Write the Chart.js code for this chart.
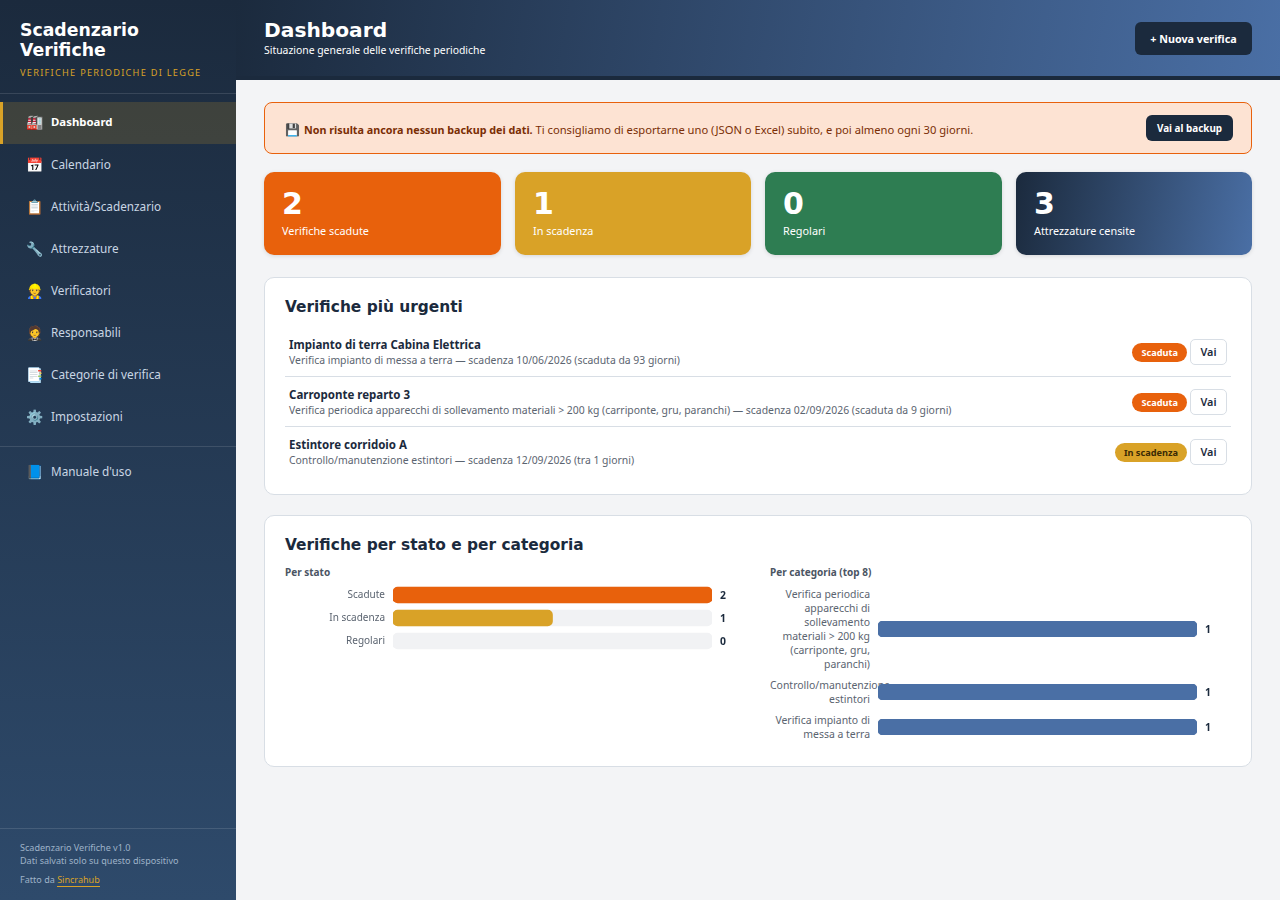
<!DOCTYPE html>
<html lang="it">
<head>
<meta charset="utf-8">
<title>Scadenzario Verifiche</title>
<script src="https://cdn.jsdelivr.net/npm/chart.js@4/dist/chart.umd.min.js"></script>
<style>
* { box-sizing: border-box; margin: 0; padding: 0; }
html, body { width: 1280px; height: 900px; overflow: hidden; background: #f3f4f6; font-family: "Noto Sans", sans-serif; color: #1b2a3d; }
h1, h2, .brand, .num { font-family: "DejaVu Sans", sans-serif; font-weight: 700; }
.abs { position: absolute; }
#sidebar { position: absolute; left: 0; top: 0; width: 236px; height: 900px; background: linear-gradient(180deg, #1b2a3d, #2e4a6b); }
.brand { position: absolute; left: 20px; top: 20px; font-size: 17.3px; line-height: 20px; color: #fff; }
.brand-sub { position: absolute; left: 20px; top: 66px; font-size: 9.2px; line-height: 13px; letter-spacing: 1.27px; color: #d9a227; }
.sep { position: absolute; left: 0; width: 236px; height: 1px; background: rgba(255,255,255,.12); }
.nav { position: absolute; left: 0; width: 236px; height: 42px; display: flex; align-items: center; padding-left: 26px; padding-bottom: 2px; font-size: 11.75px; color: #c9d6e4; }
.nav i { font-style: normal; width: 25px; font-size: 14px; }
.nav.on { background: rgba(217,162,39,.18); border-left: 3px solid #d9a227; padding-left: 23px; padding-bottom: 3px; color: #fff; font-weight: 700; font-size: 11.4px; }
#foot { position: absolute; left: 20px; top: 841px; font-size: 9.05px; line-height: 13px; color: #9fb3c8; }
#foot p + p { margin-top: 6px; }
#foot a { color: #d9a227; border-bottom: 1px solid #d9a227; }
#head { position: absolute; left: 236px; top: 0; width: 1044px; height: 80px; background: linear-gradient(100deg, #1b2a3d, #4a6fa5); border-bottom: 4px solid #1b2a3d; color: #fff; }
#head h1 { position: absolute; left: 28px; top: 17px; font-size: 20.2px; line-height: 27px; }
#head p { position: absolute; left: 28px; top: 43px; font-size: 10.4px; line-height: 15px; }
.btn { position: absolute; background: #1b2a3d; color: #fff; font-weight: 700; border-radius: 6px; display: flex; align-items: center; justify-content: center; }
#alert { position: absolute; left: 264px; top: 102px; width: 988px; height: 52px; background: #fde3d3; border: 1px solid #e8610c; border-radius: 8px; font-size: 11.2px; color: #7a2e05; line-height: 54px; padding-left: 20px; }
#alert i { font-style: normal; font-size: 12px; margin-right: 4px; }
#alert b { font-size: 10.75px; }
.stat { position: absolute; top: 172px; height: 83px; border-radius: 10px; color: #fff; box-shadow: 0 1px 4px rgba(0,0,0,.12); }
.stat .num { position: absolute; left: 18px; top: 13px; font-size: 30px; line-height: 38px; }
.stat .lab { position: absolute; left: 18px; top: 51px; font-size: 10.85px; line-height: 16px; }
.card { position: absolute; left: 264px; width: 988px; background: #fff; border: 1px solid #d8dee5; border-radius: 10px; }
.card h2 { position: absolute; left: 20px; top: 18px; font-size: 15.4px; line-height: 22px; }
.row { position: absolute; left: 20px; width: 946px; height: 50px; border-bottom: 1px solid #d8dee5; }
.row:last-child { border-bottom: 0; }
.row b { position: absolute; left: 4px; top: 9px; font-size: 11.5px; line-height: 17px; }
.row span.sub { position: absolute; left: 4px; top: 26px; font-size: 10.42px; line-height: 15px; color: #5b6470; }
.badge { position: absolute; right: 44px; top: 16px; height: 19px; border-radius: 10px; padding: 0 9px; font-size: 9.2px; font-weight: 700; line-height: 19px; }
.vai { position: absolute; right: 4px; top: 12px; width: 37px; height: 26px; border: 1px solid #d8dee5; border-radius: 5px; font-size: 10.8px; font-weight: 600; text-align: center; line-height: 24px; background: #fff; }
.subh { position: absolute; top: 565px; font-size: 10px; line-height: 15px; font-weight: 700; color: #4b5563; }
#catRows { position: absolute; left: 770px; top: 587px; width: 442px; display: flex; flex-direction: column; gap: 7px; }
.catRow { position: relative; display: flex; align-items: center; }
.catRow .lb { width: 100px; flex: none; text-align: right; font-size: 10.45px; line-height: 14px; color: #5b6470; }
.catRow canvas { position: absolute; left: 108px; top: 50%; margin-top: -8px; }
</style>
</head>
<body>
<div id="sidebar">
  <div class="brand">Scadenzario<br>Verifiche</div>
  <div class="brand-sub">VERIFICHE PERIODICHE DI LEGGE</div>
  <div class="sep" style="top:93px"></div>
  <div id="nav"></div>
  <div class="sep" style="top:446px"></div>
  <div class="sep" style="top:828px"></div>
  <div id="foot">
    <p>Scadenzario Verifiche v1.0<br>Dati salvati solo su questo dispositivo</p>
    <p>Fatto da <a>Sincrahub</a></p>
  </div>
</div>

<div id="head">
  <h1>Dashboard</h1>
  <p>Situazione generale delle verifiche periodiche</p>
  <div class="btn" style="left:899px;top:22px;width:117px;height:33px;font-size:10.75px">+ Nuova verifica</div>
</div>

<div id="alert"><i>💾</i><b>Non risulta ancora nessun backup dei dati.</b> Ti consigliamo di esportarne uno (JSON o Excel) subito, e poi almeno ogni 30 giorni.
  <div class="btn" style="left:881px;top:12px;width:87px;height:26px;font-size:9.9px;line-height:normal">Vai al backup</div>
</div>

<div id="stats"></div>

<div class="card" style="top:277px;height:218px">
  <h2>Verifiche più urgenti</h2>
  <div id="urgenti"></div>
</div>

<div class="card" style="top:515px;height:252px">
  <h2>Verifiche per stato e per categoria</h2>
</div>

<div class="subh" style="left:285px">Per stato</div>
<canvas id="chartStato" class="abs" style="left:285px;top:583px" width="442" height="70"></canvas>

<div class="subh" style="left:770px">Per categoria (top 8)</div>
<div id="catRows"></div>

<script>
// --- DATI ---
const statoLabels = ["Scadute", "In scadenza", "Regolari"];
const statoValues = [2, 1, 0];
const statoTrack = [2, 2, 2];
const statoColors = ["#e8610c", "#d9a227", "transparent"]; // regolari = 0, nessuna barra

const categoriaLabels = [
  "Verifica periodica apparecchi di sollevamento materiali > 200 kg (carriponte, gru, paranchi)",
  "Controllo/manutenzione estintori",
  "Verifica impianto di messa a terra"
];
const categoriaValues = [1, 1, 1];
const categoriaTrack = [1, 1, 1];

const navVoci = [["🏭","Dashboard"],["📅","Calendario"],["📋","Attività/Scadenzario"],["🔧","Attrezzature"],["👷","Verificatori"],["🤵","Responsabili"],["📑","Categorie di verifica"],["⚙️","Impostazioni"]];
const statNumeri = [2, 1, 0, 3];
const statTesti = ["Verifiche scadute", "In scadenza", "Regolari", "Attrezzature censite"];
const statLeft = [264, 515, 765, 1016];
const statWidth = [237, 236, 237, 236];
const statSfondi = ["#e8610c", "#d9a227", "#2e7d52", "linear-gradient(100deg,#1b2a3d,#4a6fa5)"];
const urgenti = [
  ["Impianto di terra Cabina Elettrica", "Verifica impianto di messa a terra — scadenza 10/06/2026 (scaduta da 93 giorni)", "Scaduta"],
  ["Carroponte reparto 3", "Verifica periodica apparecchi di sollevamento materiali > 200 kg (carriponte, gru, paranchi) — scadenza 02/09/2026 (scaduta da 9 giorni)", "Scaduta"],
  ["Estintore corridoio A", "Controllo/manutenzione estintori — scadenza 12/09/2026 (tra 1 giorni)", "In scadenza"]
];

// --- HTML ---
let navHtml = "";
navVoci.forEach((v, i) => {
  navHtml += `<div class="nav${i === 0 ? " on" : ""}" style="top:${102 + i * 42}px"><i>${v[0]}</i>${v[1]}</div>`;
});
navHtml += `<div class="nav" style="top:451px"><i>📘</i>Manuale d'uso</div>`;
document.getElementById("nav").innerHTML = navHtml;

document.getElementById("stats").innerHTML = statNumeri.map((n, i) =>
  `<div class="stat" style="left:${statLeft[i]}px;width:${statWidth[i]}px;background:${statSfondi[i]}"><div class="num">${n}</div><div class="lab">${statTesti[i]}</div></div>`
).join("");

document.getElementById("urgenti").innerHTML = urgenti.map((u, i) => {
  const stile = u[2] === "Scaduta" ? "background:#e8610c;color:#fff" : "background:#d9a227;color:#3a2a05";
  return `<div class="row" style="top:${49 + i * 50}px"><b>${u[0]}</b><span class="sub">${u[1]}</span><span class="badge" style="${stile}">${u[2]}</span><span class="vai">Vai</span></div>`;
}).join("");

// --- GRAFICI ---
const labelValori = {
  id: "labelValori",
  afterDatasetsDraw(chart) {
    const { ctx, chartArea, scales } = chart;
    ctx.save();
    ctx.font = "700 10.4px 'Noto Sans'";
    ctx.fillStyle = "#1b2a3d";
    ctx.textBaseline = "middle";
    chart.data.datasets[0].data.forEach((v, i) => {
      ctx.fillText(v, chartArea.right + 8, scales.y.getPixelForValue(i) + 1);
    });
    ctx.restore();
  }
};

function disegnaBarre(canvas, labels, values, track, colors, yWidth, showLabels, padY) {
  return new Chart(canvas, {
    type: "bar",
    data: {
      labels,
      datasets: [
        { data: values, backgroundColor: colors, borderRadius: 5, borderSkipped: false, barThickness: 16, order: 1 },
        { data: track, backgroundColor: "#f1f2f4", borderRadius: 5, borderSkipped: false, barThickness: 16, order: 2 }
      ]
    },
    options: {
      indexAxis: "y",
      responsive: false,
      animation: false,
      layout: { autoPadding: false, padding: { right: 15, top: padY, bottom: padY } },
      plugins: { legend: { display: false }, tooltip: { enabled: false } },
      scales: {
        x: { display: false, min: 0, max: track[0], stacked: false },
        y: {
          stacked: true,
          display: showLabels,
          // niente margini extra per le etichette: le righe devono stare a passo fisso
          afterFit: s => { s.width = yWidth; s.paddingTop = 0; s.paddingBottom = 0; },
          grid: { display: false, drawTicks: false },
          border: { display: false },
          ticks: { padding: 8, color: "#5b6470", font: { family: "Noto Sans", size: 10 } }
        }
      }
    },
    plugins: [labelValori]
  });
}

disegnaBarre(document.getElementById("chartStato"), statoLabels, statoValues, statoTrack, statoColors, 108, true, 0.5);

// le righe per categoria hanno altezze diverse: un grafico per riga
const righe = document.getElementById("catRows");
categoriaLabels.forEach((lab, i) => {
  const r = document.createElement("div");
  r.className = "catRow";
  r.innerHTML = `<div class="lb">${lab.replace(">", "&gt;")}</div><canvas width="334" height="16"></canvas>`;
  righe.appendChild(r);
  disegnaBarre(r.querySelector("canvas"), [lab], [categoriaValues[i]], [categoriaTrack[i]], ["#4a6fa5"], 0, false, 0);
});
</script>
</body>
</html>
